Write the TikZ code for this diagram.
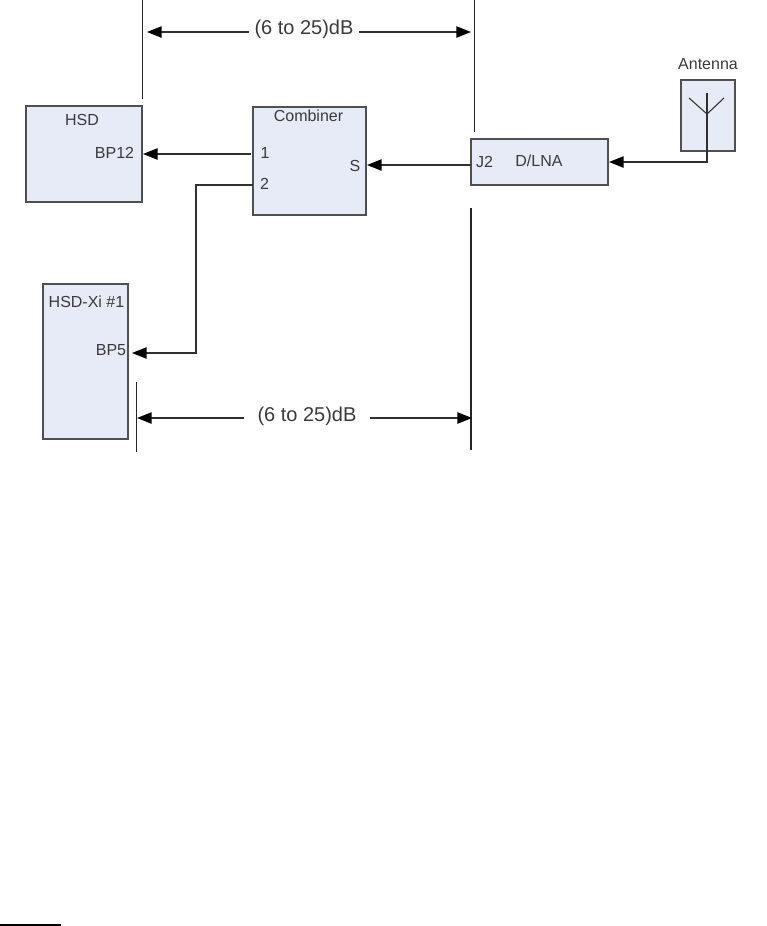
\documentclass[tikz,border=0pt]{standalone}
\usepackage{fontspec}
\setmainfont{Liberation Sans}
\usetikzlibrary{arrows.meta}

\definecolor{boxfill}{HTML}{E6EBF7}
\definecolor{boxline}{HTML}{505050}
\definecolor{wire}{HTML}{303030}
\definecolor{labeltext}{HTML}{3A3A3A}

\tikzset{
    blockbox/.style={draw=boxline, fill=boxfill, line width=1.1pt, inner sep=0pt, outer sep=0pt},
    portlabel/.style={text=labeltext, font=\fontsize{12}{14}\selectfont, inner sep=0pt},
    dimlabel/.style={text=labeltext, font=\fontsize{15}{18}\selectfont, inner ysep=0pt},
    signal/.style={draw=wire, line width=1.1pt},
    limit/.style={draw=black!85, line width=1pt}
}

\begin{document}
\begin{tikzpicture}[x=0.75pt, y=-0.75pt, >={Triangle[length=11pt,width=8.5pt,black]}]
    \useasboundingbox (0,0) rectangle (767,926);

    % Units
    \node[blockbox, minimum width=87pt, minimum height=72pt] (hsd) at (84,154) {};
    \node[blockbox, minimum width=84.75pt, minimum height=81pt] (combiner) at (309.5,161) {};
    \node[blockbox, minimum width=102.75pt, minimum height=34.5pt] (dlna) at (539.5,162) {};
    \node[blockbox, minimum width=40.5pt, minimum height=53.25pt] (antennabox) at (708,115.5) {};
    \node[blockbox, minimum width=63.75pt, minimum height=116.25pt] (hsdxi) at (85.5,361.5) {};

    % Labels inside the units
    \node[portlabel] (hsdname) at (82,120) {HSD};
    \node[portlabel] (bp12) at (114.5,153) {BP12};
    \node[portlabel] (combname) at (308.5,116) {Combiner};
    \node[portlabel] (one) at (265,153) {1};
    \node[portlabel] (two) at (264.5,184) {2};
    \node[portlabel] (sport) at (355,166) {S};
    \node[portlabel] (jtwo) at (484.5,162) {J2};
    \node[portlabel] (dlnaname) at (539,161) {D/LNA};
    \node[portlabel] (antname) at (708,64) {Antenna};
    \node[portlabel] (xiname) at (86.5,302) {HSD-Xi \#1};
    \node[portlabel] (bp5) at (111,350) {BP5};

    % Connection points
    \coordinate (hsdin) at (143,154);
    \coordinate (comb1) at (251,154);
    \coordinate (comb2) at (253,185);
    \coordinate (combs) at (367,165);
    \coordinate (dlnaj2) at (471,165);
    \coordinate (dlnain) at (609,162);
    \coordinate (xiin) at (132,353);
    \coordinate (anttop) at (707,93);
    \coordinate (antjoin) at (707,114);
    \coordinate (antleft) at (689,98);
    \coordinate (antright) at (724,98);

    % Signal paths
    \draw[signal, ->] (comb1) -- (hsdin);
    \draw[signal, ->] (dlnaj2) -- (combs);
    \draw[signal, ->] (comb2) -| (196,353) -- (xiin);
    \draw[signal, ->] (anttop) |- (dlnain);
    \draw[signal, line width=0.8pt] (antleft) -- (antjoin) -- (antright);

    % Limit lines
    \coordinate (lima) at (142.5,0);
    \coordinate (limb) at (142.5,99);
    \coordinate (limc) at (474.5,0);
    \coordinate (limd) at (474.5,132);
    \coordinate (lime) at (471,208);
    \coordinate (limf) at (471,450);
    \coordinate (limg) at (136.5,382);
    \coordinate (limh) at (136.5,452);
    \draw[limit] (lima) -- (limb);
    \draw[limit] (limc) -- (limd);
    \draw[limit] (lime) -- (limf);
    \draw[limit] (limg) -- (limh);

    % Level spans
    \node[dimlabel, inner xsep=4pt] (topspan) at (304,29) {(6 to 25)dB};
    \node[dimlabel, inner xsep=10pt] (lowspan) at (307,416) {(6 to 25)dB};
    \coordinate (topleft) at (147,32);
    \coordinate (topright) at (471,32);
    \coordinate (lowleft) at (137,418);
    \coordinate (lowright) at (472,418);
    \draw[signal, ->] (topleft -| topspan.west) -- (topleft);
    \draw[signal, ->] (topright -| topspan.east) -- (topright);
    \draw[signal, ->] (lowleft -| lowspan.west) -- (lowleft);
    \draw[signal, ->] (lowright -| lowspan.east) -- (lowright);

    % Short rule at the page foot
    \coordinate (rulea) at (0,924.8);
    \coordinate (ruleb) at (61,924.8);
    \draw[black, line width=1.6pt] (rulea) -- (ruleb);

\end{tikzpicture}
\end{document}
